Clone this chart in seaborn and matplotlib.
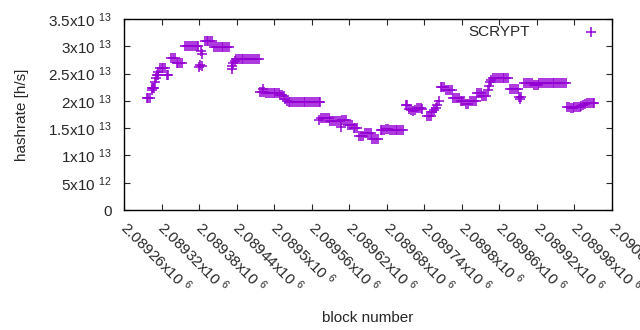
import numpy as np
import seaborn as sns
import matplotlib.pyplot as plt
import matplotlib.transforms as mtransforms
import pandas as pd

# block numbers and hashrate (in units of 1e13 h/s)
blocks = [
    2089296, 2089299, 2089301,
    2089304, 2089305, 2089306, 2089308,
    2089310, 2089311,
    2089313, 2089314, 2089315,
    2089317, 2089320, 2089323, 2089326,
    2089328, 2089331,
    2089335, 2089338, 2089341,
    2089344, 2089347, 2089350, 2089353,
    2089358, 2089361, 2089364, 2089367, 2089370, 2089373, 2089376, 2089379,
    2089380, 2089382, 2089383, 2089384, 2089385,
    2089389, 2089392, 2089395, 2089398, 2089401,
    2089404, 2089407, 2089410, 2089413, 2089416, 2089419, 2089422, 2089425, 2089428,
    2089432, 2089433, 2089435, 2089437,
    2089439, 2089442, 2089445, 2089448, 2089451, 2089454, 2089457, 2089460, 2089463, 2089466, 2089469, 2089472, 2089475,
    2089478, 2089481, 2089482, 2089484,
    2089487, 2089490, 2089493, 2089496, 2089499, 2089502, 2089505, 2089508,
    2089510, 2089513, 2089516, 2089518, 2089520,
    2089523, 2089526, 2089529, 2089532, 2089535, 2089538, 2089541, 2089544, 2089547,
    2089550, 2089553, 2089556, 2089559, 2089562, 2089565, 2089568, 2089571, 2089574,
    2089572, 2089575, 2089578, 2089581, 2089584, 2089587,
    2089590, 2089593, 2089596, 2089599, 2089602, 2089605,
    2089607, 2089609, 2089612, 2089615,
    2089618, 2089621, 2089624,
    2089627, 2089630, 2089633,
    2089636, 2089639, 2089642,
    2089645, 2089648, 2089651, 2089654,
    2089657, 2089660, 2089663, 2089666,
    2089670, 2089673, 2089676, 2089679, 2089682, 2089685, 2089688,
    2089691, 2089694, 2089697, 2089700, 2089703, 2089706,
    2089710, 2089713,
    2089716, 2089719, 2089722, 2089725, 2089728, 2089731, 2089734, 2089737,
    2089744, 2089747, 2089750,
    2089753, 2089756, 2089759, 2089761, 2089763,
    2089766, 2089769, 2089772,
    2089775, 2089778, 2089781, 2089784,
    2089786, 2089789, 2089792, 2089795,
    2089798, 2089801, 2089804,
    2089807, 2089810,
    2089813, 2089816, 2089819, 2089822,
    2089824, 2089827, 2089830,
    2089833, 2089836, 2089839,
    2089842, 2089843, 2089845,
    2089847, 2089850, 2089853, 2089856, 2089859, 2089862, 2089865, 2089868, 2089871, 2089874,
    2089877, 2089880, 2089883, 2089886, 2089889,
    2089891, 2089893, 2089894,
    2089900, 2089903, 2089906, 2089909, 2089912,
    2089915, 2089918, 2089921,
    2089924, 2089927, 2089930, 2089933, 2089936, 2089939, 2089942, 2089945,
    2089948, 2089951, 2089954, 2089957, 2089960, 2089963, 2089966,
    2089968, 2089971, 2089974, 2089977, 2089980, 2089983, 2089986, 2089989,
    2089991, 2089994, 2089997, 2090000, 2090003, 2090006, 2090009, 2090012,
]

hashrate_e13 = [
    2.06, 2.06, 2.06,
    2.24, 2.20, 2.24, 2.24,
    2.35, 2.41,
    2.48, 2.53, 2.48,
    2.61, 2.61, 2.61, 2.61,
    2.48, 2.48,
    2.79, 2.79, 2.79,
    2.70, 2.70, 2.70, 2.70,
    3.01, 3.01, 3.01, 3.01, 3.01, 3.01, 3.01, 3.01,
    2.62, 2.66, 2.92, 2.86, 2.64,
    3.10, 3.10, 3.10, 3.10, 3.10,
    2.99, 2.99, 2.99, 2.99, 2.99, 2.99, 2.99, 2.99, 2.99,
    2.64, 2.59, 2.70, 2.73,
    2.77, 2.77, 2.77, 2.77, 2.77, 2.77, 2.77, 2.77, 2.77, 2.77, 2.77, 2.77, 2.77,
    2.16, 2.16, 2.22, 2.16,
    2.15, 2.15, 2.15, 2.15, 2.15, 2.15, 2.15, 2.15,
    2.11, 2.11, 2.08, 2.04, 2.00,
    1.97, 1.97, 1.97, 1.97, 1.97, 1.97, 1.97, 1.97, 1.97,
    1.97, 1.97, 1.97, 1.97, 1.97, 1.97, 1.97, 1.97, 1.97,
    1.65, 1.69, 1.69, 1.69, 1.69, 1.69,
    1.63, 1.63, 1.63, 1.63, 1.63, 1.63,
    1.53, 1.65, 1.65, 1.65,
    1.56, 1.56, 1.56,
    1.50, 1.50, 1.50,
    1.36, 1.36, 1.36,
    1.41, 1.41, 1.41, 1.41,
    1.31, 1.31, 1.31, 1.31,
    1.47, 1.47, 1.47, 1.48, 1.48, 1.47, 1.47,
    1.46, 1.46, 1.46, 1.47, 1.47, 1.47,
    1.92, 1.92,
    1.85, 1.83, 1.82, 1.84, 1.86, 1.86, 1.86, 1.85,
    1.73, 1.73, 1.73,
    1.79, 1.83, 1.87, 1.92, 1.99,
    2.26, 2.26, 2.26,
    2.20, 2.20, 2.20, 2.20,
    2.05, 2.05, 2.05, 2.05,
    2.00, 2.00, 2.00,
    1.94, 1.94,
    1.99, 1.99, 1.99, 1.99,
    2.15, 2.15, 2.15,
    2.09, 2.09, 2.09,
    2.20, 2.27, 2.34,
    2.38, 2.42, 2.42, 2.42, 2.42, 2.42, 2.42, 2.42, 2.42, 2.42,
    2.22, 2.22, 2.22, 2.22, 2.22,
    2.07, 2.03, 2.07,
    2.33, 2.33, 2.33, 2.33, 2.33,
    2.29, 2.29, 2.29,
    2.33, 2.33, 2.33, 2.33, 2.33, 2.33, 2.33, 2.33,
    2.33, 2.33, 2.33, 2.33, 2.33, 2.33, 2.33,
    1.88, 1.88, 1.87, 1.87, 1.88, 1.88, 1.88, 1.88,
    1.90, 1.92, 1.94, 1.96, 1.96, 1.96, 1.96, 1.96,
]

xticks = [2089260 + 60 * i for i in range(14)]
xtick_labels = ["2.08926", "2.08932", "2.08938", "2.08944", "2.0895", "2.08956",
                "2.08962", "2.08968", "2.08974", "2.0898", "2.08986", "2.08992",
                "2.08998", "2.09004"]
yticks = [0, 5e12, 1e13, 1.5e13, 2e13, 2.5e13, 3e13, 3.5e13]
ytick_labels = ["0", "5x10 $^{12}$", "1x10 $^{13}$", "1.5x10 $^{13}$", "2x10 $^{13}$",
                "2.5x10 $^{13}$", "3x10 $^{13}$", "3.5x10 $^{13}$"]

assert len(blocks) == len(hashrate_e13)
df = pd.DataFrame({"block": blocks, "hashrate": np.array(hashrate_e13) * 1e13})

sns.set_style("ticks")
plt.rcParams["font.family"] = ["Liberation Sans", "DejaVu Sans"]
plt.rcParams["mathtext.fontset"] = "custom"
plt.rcParams["mathtext.rm"] = "Liberation Sans"
plt.rcParams["mathtext.it"] = "Liberation Sans"
plt.rcParams["mathtext.bf"] = "Liberation Sans"

fig = plt.figure(figsize=(6.4, 3.3), dpi=100)
ax = fig.add_axes([124 / 640, 1 - 210 / 330, 488 / 640, 191 / 330])

sns.scatterplot(data=df, x="block", y="hashrate", marker="+", color="#9400d3",
                s=45, linewidth=1.1, label="SCRYPT", ax=ax)

ax.set_xlim(2089260, 2090040)
ax.set_ylim(0, 3.5e13)
ax.set_xticks(xticks)
ax.set_xticklabels([t + "x10 $^{6}$" for t in xtick_labels], rotation=-45,
                   ha="left", va="top", rotation_mode="anchor", fontsize=11)
ax.set_yticks(yticks)
ax.set_yticklabels(ytick_labels, fontsize=11)
ax.tick_params(direction="in", top=True, right=True, length=4, width=0.8)
ax.tick_params(axis="y", pad=9)
ax.tick_params(axis="x", pad=7)
# nudge rotated labels so they start right at their tick
shift = mtransforms.ScaledTranslation(6 / 100, 2 / 100, fig.dpi_scale_trans)
for lab in ax.get_xticklabels():
    lab.set_transform(lab.get_transform() + shift)
for sp in ax.spines.values():
    sp.set_linewidth(1)
    sp.set_color("black")

ax.set_xlabel("block number", fontsize=11, labelpad=11)
ax.set_ylabel("hashrate [h/s]", fontsize=11, labelpad=14)

ax.legend(loc="upper right", frameon=False, markerfirst=False, fontsize=11,
          handlelength=2, handletextpad=3.0, borderaxespad=0.1, borderpad=0.3)

fig.savefig("out.png", dpi=100)
